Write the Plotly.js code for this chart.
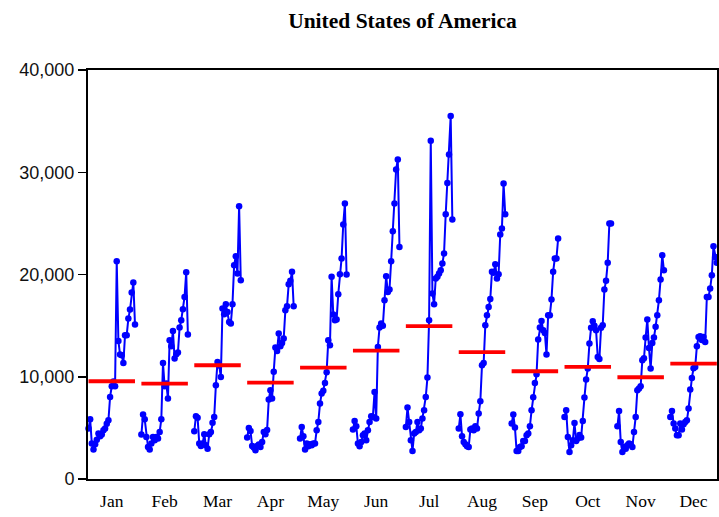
<!DOCTYPE html>
<html>
<head>
<meta charset="utf-8">
<script src="https://cdn.plot.ly/plotly-3.0.1.min.js"></script>
<style>
  html, body { margin: 0; padding: 0; background: #ffffff; overflow: hidden; }
  #chart { width: 719px; height: 517px; }
</style>
</head>
<body>
<div id="chart"></div>
<script>
// Monthly values, one entry per year, grouped by calendar month
const months = ['Jan', 'Feb', 'Mar', 'Apr', 'May', 'Jun', 'Jul', 'Aug', 'Sep', 'Oct', 'Nov', 'Dec'];

const jan = [4930, 5840, 3460, 2880, 3400, 3850, 4440, 4180, 4340, 4770, 4930, 5400, 5740, 8030, 9070, 9540, 9070, 21300, 13500, 12170, 12100, 11350, 14060, 14060, 15690, 16570, 18240, 19220, 15110];
const feb = [4340, 6300, 5840, 4110, 3130, 2880, 3460, 4110, 3790, 4110, 3950, 4600, 5840, 11350, 9060, 9330, 7870, 13570, 12990, 14480, 11780, 12200, 12370, 14810, 15530, 16600, 17810, 20230, 14130];
const mar = [4670, 6140, 6000, 3460, 3230, 3460, 4370, 3300, 2970, 4370, 4600, 5500, 6070, 9170, 11450, 11100, 9980, 16670, 16120, 17090, 16340, 15360, 15200, 17090, 20910, 21790, 20100, 26680, 19440];
const apr = [4050, 4990, 4700, 3230, 3070, 2810, 3230, 3370, 3130, 3620, 4600, 4370, 4800, 7770, 8680, 7870, 10500, 12860, 12530, 14230, 12990, 13310, 13740, 16510, 16900, 19050, 19380, 20260, 16900];
const may = [3950, 5090, 4180, 2880, 3460, 3200, 3400, 3300, 3460, 3460, 4770, 5580, 7380, 8360, 8640, 9400, 10440, 13570, 13080, 19770, 16090, 15530, 15600, 18070, 20030, 21570, 24890, 26950, 20000];
const jun = [4830, 5680, 5160, 3460, 3200, 3620, 4280, 4440, 3790, 4770, 5580, 6140, 6070, 8510, 5910, 12920, 14810, 15200, 15000, 17490, 19830, 18300, 18530, 21300, 24240, 26950, 30280, 31250, 22700];
const jul = [5090, 6990, 5580, 3790, 2740, 4440, 4600, 5580, 4770, 4930, 5910, 6720, 8030, 9920, 15530, 33070, 18140, 17090, 19610, 19770, 20100, 20420, 21080, 22060, 25900, 28960, 31740, 35490, 25380];
const aug = [4930, 6330, 4180, 3620, 3400, 3200, 3130, 4830, 4930, 4770, 5160, 4930, 6400, 7600, 11130, 11350, 15040, 16020, 16830, 17610, 20260, 20160, 21000, 19610, 20030, 23910, 24500, 28900, 25900];
const sep = [5420, 6300, 5030, 2740, 2740, 3130, 3200, 3720, 3720, 4280, 4440, 5160, 6720, 8000, 9400, 10240, 13640, 14810, 15450, 14550, 14290, 12170, 16020, 16020, 17550, 20260, 21570, 21570, 23520];
const oct = [6070, 6720, 4110, 2640, 3300, 3790, 5480, 3720, 3950, 4300, 4050, 5680, 7960, 9730, 10800, 13250, 14780, 15430, 15000, 14550, 11940, 11740, 14780, 15040, 18530, 19380, 21140, 24990, 24990];
const nov = [5160, 6650, 3620, 2640, 3130, 2970, 3300, 3460, 3400, 3130, 4600, 6070, 8680, 8850, 9070, 11620, 11800, 13840, 15600, 12820, 10800, 13290, 13840, 14880, 16020, 17490, 19510, 21890, 20420];
const dec = [6070, 6650, 5420, 4930, 4280, 4280, 5420, 4830, 5350, 5580, 5740, 6890, 8750, 9880, 10840, 10960, 12990, 13890, 13960, 13600, 13890, 13400, 17810, 17810, 18630, 19930, 22770, 21720, 21140];

const byMonth = [jan, feb, mar, apr, may, jun, jul, aug, sep, oct, nov, dec];

// Horizontal layout of the seasonal panels (axis units)
const STRIDE = 52.9;   // distance between the starts of consecutive months
const SPAN = 46.5;     // width occupied by one month's yearly points

const seriesTraces = [];
const meanTraces = [];
byMonth.forEach((vals, m) => {
  const n = vals.length;
  const xs = vals.map((_, j) => m * STRIDE + j * SPAN / (n - 1));
  seriesTraces.push({
    type: 'scatter', mode: 'lines+markers',
    x: xs, y: vals,
    line: { color: '#0000ff', width: 2 },
    marker: { color: '#0000ff', size: 6.5 },
    cliponaxis: false,
    hoverinfo: 'y', showlegend: false
  });
  // month average drawn as a flat red bar across that month's points
  const mean = vals.reduce((a, b) => a + b, 0) / n;
  meanTraces.push({
    type: 'scatter', mode: 'lines',
    x: [xs[0], xs[n - 1]], y: [mean, mean],
    line: { color: '#ff0000', width: 3.8 },
    hoverinfo: 'y', showlegend: false
  });
});

const tickPos = months.map((_, m) => m * STRIDE + SPAN / 2);

const layout = {
  width: 719, height: 517,
  margin: { l: 88, r: 2, t: 70, b: 38, pad: 0 },
  paper_bgcolor: '#ffffff', plot_bgcolor: '#ffffff',
  title: {
    text: '<b>United States of America</b>',
    font: { family: 'Liberation Serif, Times New Roman, serif', size: 21.5, color: '#000000' },
    x: 0.5, xref: 'paper', xanchor: 'center',
    y: 1 - 20 / 517, yref: 'container', yanchor: 'middle'
  },
  xaxis: {
    range: [-0.5, 11 * STRIDE + SPAN + 0.2],
    tickmode: 'array', tickvals: tickPos, ticktext: months,
    ticks: '', showgrid: false, zeroline: false,
    showline: true, linecolor: '#000000', linewidth: 2, mirror: true,
    ticklabelstandoff: 5,
    tickfont: { family: 'Liberation Serif, Times New Roman, serif', size: 17.5, color: '#000000' },
    fixedrange: true
  },
  yaxis: {
    range: [0, 40000],
    tickmode: 'array', tickvals: [0, 10000, 20000, 30000, 40000],
    tickformat: ',d',
    ticks: 'outside', ticklen: 8, tickwidth: 1.5, tickcolor: '#000000',
    showgrid: false, zeroline: false,
    showline: true, linecolor: '#000000', linewidth: 2, mirror: true,
    tickfont: { family: 'Liberation Sans, Arial, sans-serif', size: 18, color: '#111111' },
    fixedrange: true
  }
};

Plotly.newPlot('chart', seriesTraces.concat(meanTraces), layout, { staticPlot: true, displayModeBar: false });
</script>
</body>
</html>
